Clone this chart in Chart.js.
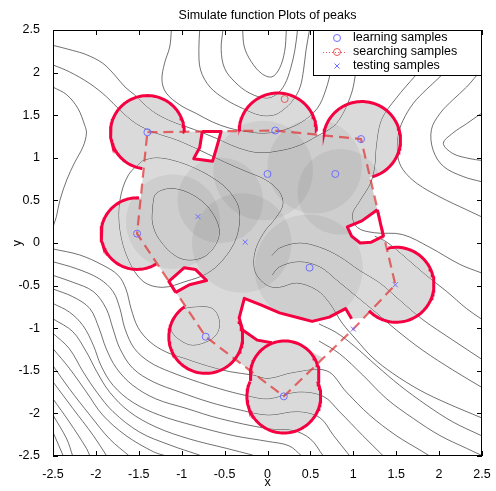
<!DOCTYPE html>
<html>
<head>
<meta charset="utf-8">
<title>Simulate function Plots of peaks</title>
<script src="https://cdn.jsdelivr.net/npm/chart.js@4.4.1/dist/chart.umd.min.js"></script>
<style>
  html, body { margin: 0; padding: 0; background: #fff; }
  canvas { display: block; }
</style>
</head>
<body>
<canvas id="peaksChart" width="496" height="491"></canvas>
<script>
// ---- samples ----
const learnX = [-1.40, 0.09, 1.09, 0.00, 0.79, -1.52, 0.49, -0.72, 0.19];
const learnY = [1.30, 1.32, 1.22, 0.81, 0.81, 0.11, -0.29, -1.10, -1.80];
const testX = [-0.81, -0.26, 1.49, 1.00];
const testY = [0.31, 0.01, -0.49, -1.01];
const searchX = [0.20];
const searchY = [1.69];

// ---- covered region: hull with notches, and the ring circles ----
const hullX = [-1.40, -0.76, -0.79, -0.86, -0.64, -0.59, -0.54, 0.09, 1.09, 1.28, 1.10, 0.93, 0.98, 1.08, 1.21, 1.35, 1.49,
  1.12, 0.98, 0.91, 0.72, 0.52, 0.37, 0.14, -0.07, -0.27, -0.33, -0.29, -0.12, 0.05, 0.20, 0.45, 0.65, 0.19, -0.72,
  -1.07, -0.91, -0.71, -0.84, -0.97, -1.15, -1.52, -1.40];
const hullY = [1.30, 1.31, 1.12, 0.99, 0.96, 1.13, 1.31, 1.32, 1.22, 0.39, 0.26, 0.19, 0.08, 0.00, 0.01, 0.08, -0.49,
  -0.88, -0.89, -0.77, -0.87, -0.92, -0.88, -0.82, -0.73, -0.65, -0.88, -1.02, -1.14, -1.17, -1.16, -1.24, -1.35, -1.80, -1.10,
  -0.58, -0.49, -0.44, -0.31, -0.29, -0.45, 0.11, 1.30];

const ringX = [-1.40, 0.12, 1.10, -1.52, -0.72, 0.19, 0.20, 1.50];
const ringY = [1.30, 1.31, 1.21, 0.11, -1.10, -1.80, -1.55, -0.49];
const ringR = [0.43, 0.45, 0.45, 0.42, 0.43, 0.43, 0.40, 0.44];
const arcFrom = [0, 0, -74, 87, 125, 156, -11, -136];
const arcTo = [262, 180, 168, 302, 385, 384, 190, 102];

const shadeX = [-1.10, -0.30, -0.05, 0.55, 0.85, 0.48, -0.55];
const shadeY = [0.25, 0.00, 0.85, 0.90, 0.60, -0.30, 0.50];
const shadeR = [0.55, 0.58, 0.58, 0.55, 0.50, 0.63, 0.50];

const notchTopX = [-0.76, -0.79, -0.86, -0.64, -0.59, -0.54, -0.76];
const notchTopY = [1.31, 1.12, 0.99, 0.96, 1.13, 1.31, 1.31];
const notchLeftX = [-1.07, -0.91, -0.71, -0.84, -0.97, -1.15, -1.07];
const notchLeftY = [-0.58, -0.49, -0.44, -0.31, -0.29, -0.45, -0.58];
const notchRightX = [1.28, 1.10, 0.93, 0.98, 1.08, 1.21, 1.35, 1.28];
const notchRightY = [0.39, 0.26, 0.19, 0.08, 0.00, 0.01, 0.08, 0.39];
const notchMidX = [0.05, -0.12, -0.29, -0.33, -0.27, -0.07, 0.14, 0.37, 0.52, 0.72, 0.91, 0.98];
const notchMidY = [-1.17, -1.14, -1.02, -0.88, -0.65, -0.73, -0.82, -0.88, -0.92, -0.87, -0.77, -0.89];

// ---- contour lines of the surface ----
const contourPaths = [
  [[-2.5,2.32],[-2.27,2.26],[-2.11,2.21],[-1.92,2.11],[-1.78,1.97],[-1.66,1.83],[-1.55,1.74],[-1.45,1.64],[-1.3,1.52],[-1.1,1.42],[-0.85,1.33],[-0.6,1.23],[-0.35,1.12],[-0.1,1.06],[0.18,1.09],[0.38,1.15],[0.57,1.25],[0.77,1.37],[0.88,1.52],[0.98,1.76],[1.02,1.95],[1.05,2.2],[1.07,2.5]],
  [[-2.5,2.09],[-2.31,2.01],[-2.07,1.87],[-1.88,1.72],[-1.72,1.56],[-1.53,1.40],[-1.30,1.29],[-1.06,1.21],[-0.79,1.09],[-0.5,0.95],[-0.25,0.84],[-0.02,0.74],[0.14,0.6],[0.18,0.45],[0.1,0.3],[-0.05,0.11],[-0.15,-0.12],[-0.14,-0.35],[0.0,-0.5],[0.14,-0.52],[0.34,-0.47],[0.57,-0.55],[0.72,-0.70],[0.87,-0.94],[1.04,-1.14],[1.22,-1.34],[1.46,-1.53],[1.78,-1.73],[2.09,-1.88],[2.49,-2.05]],
  [[-2.5,1.83],[-2.34,1.74],[-2.21,1.58],[-2.13,1.38],[-2.11,1.29],[-2.15,1.13],[-2.25,0.94],[-2.34,0.74],[-2.42,0.50],[-2.46,0.31],[-2.5,0.19]],
  [[-1.12,2.5],[-1.14,2.30],[-1.20,2.11],[-1.23,1.91],[-1.18,1.76],[-1.02,1.62],[-0.83,1.52],[-0.64,1.42],[-0.45,1.35],[-0.2,1.3],[0.0,1.29],[0.2,1.33],[0.4,1.42],[0.58,1.58],[0.68,1.8],[0.74,2.05],[0.78,2.5]],
  [[-0.79,2.5],[-0.80,2.27],[-0.78,2.03],[-0.67,1.83],[-0.48,1.68],[-0.29,1.58],[-0.09,1.50],[0.07,1.50],[0.18,1.56],[0.30,1.68],[0.38,1.83],[0.42,2.03],[0.45,2.27],[0.49,2.5]],
  [[-0.52,2.5],[-0.54,2.27],[-0.50,2.05],[-0.38,1.89],[-0.21,1.76],[-0.02,1.70],[0.1,1.74],[0.2,1.86],[0.27,2.05],[0.32,2.27],[0.35,2.5]],
  [[-0.29,2.5],[-0.27,2.30],[-0.19,2.13],[-0.07,1.99],[0.05,1.95],[0.14,2.05],[0.2,2.25],[0.22,2.5]],
  [[2.49,2.38],[2.32,2.27],[2.16,2.11],[2.01,1.95],[1.85,1.80],[1.70,1.64],[1.58,1.44],[1.52,1.25],[1.52,1.01],[1.58,0.86],[1.74,0.70],[2.01,0.54],[2.32,0.39],[2.49,0.31]],
  [[2.49,2.03],[2.32,1.83],[2.16,1.68],[2.01,1.52],[1.91,1.33],[1.93,1.09],[2.05,0.90],[2.28,0.78],[2.49,0.72]],
  [[2.49,1.52],[2.32,1.40],[2.16,1.29],[2.05,1.17],[2.16,1.05],[2.36,0.99],[2.49,0.97]],
  [[2.2,2.5],[1.95,2.22],[1.72,1.96],[1.5,1.7],[1.33,1.45],[1.27,1.15],[1.25,0.9],[1.2,0.7],[1.08,0.5],[0.99,0.33],[1.05,0.18],[1.25,0.12],[1.57,0.1],[1.89,-0.05],[2.24,-0.25],[2.49,-0.35]],
  [[-1.34,0.43],[-1.30,0.58],[-1.10,0.64],[-0.83,0.54],[-0.64,0.35],[-0.56,0.11],[-0.68,-0.12],[-0.87,-0.20],[-1.06,-0.16],[-1.26,0.04],[-1.34,0.23],[-1.34,0.43]],
  [[-1.45,0.97],[-1.3,1.0],[-1.1,0.97],[-0.85,0.88],[-0.6,0.74],[-0.44,0.6],[-0.33,0.39],[-0.36,0.07],[-0.52,-0.20],[-0.71,-0.36],[-0.95,-0.45],[-1.22,-0.52],[-1.45,-0.45],[-1.62,-0.2],[-1.72,0.15],[-1.72,0.5],[-1.62,0.8],[-1.45,0.97]],
  [[-1.12,-0.91],[-1.02,-0.79],[-0.83,-0.75],[-0.64,-0.77],[-0.56,-0.91],[-0.58,-1.05],[-0.67,-1.14],[-0.87,-1.20],[-1.02,-1.14],[-1.12,-1.03],[-1.12,-0.91]],
  [[0.05,-0.15],[0.14,-0.06],[0.37,0.0],[0.61,-0.05],[0.84,-0.16],[1.07,-0.32],[1.31,-0.47],[1.54,-0.67],[1.81,-0.90],[2.16,-1.14],[2.49,-1.36]],
  [[0.05,-0.38],[0.14,-0.28],[0.37,-0.22],[0.61,-0.28],[0.80,-0.43],[1.04,-0.63],[1.27,-0.82],[1.50,-1.02],[1.81,-1.26],[2.16,-1.49],[2.49,-1.69]],
  [[1.25,0.08],[1.39,0.01],[1.62,-0.18],[1.85,-0.38],[2.09,-0.57],[2.32,-0.77],[2.49,-0.89]],
  [[0.6,-0.95],[0.8,-1.05],[1.0,-1.2],[1.27,-1.44],[1.54,-1.67],[1.85,-1.90],[2.16,-2.10],[2.49,-2.26]],
  [[0.6,-1.15],[0.84,-1.3],[1.11,-1.55],[1.39,-1.83],[1.70,-2.06],[2.01,-2.26],[2.32,-2.41],[2.49,-2.49]],
  [[-2.5,-0.07],[-2.19,-0.14],[-1.92,-0.26],[-1.74,-0.38],[-1.65,-0.54],[-1.59,-0.77],[-1.51,-0.99],[-1.37,-1.16],[-1.18,-1.28],[-0.95,-1.36],[-0.71,-1.44],[-0.44,-1.51],[-0.17,-1.55],[0.01,-1.59],[0.3,-1.52],[0.69,-1.5],[0.92,-1.75],[1.19,-2.02],[1.50,-2.26],[1.81,-2.45],[1.89,-2.5]],
  [[-2.5,-0.22],[-2.23,-0.30],[-1.96,-0.42],[-1.80,-0.57],[-1.72,-0.77],[-1.66,-1.01],[-1.55,-1.24],[-1.37,-1.40],[-1.14,-1.51],[-0.87,-1.61],[-0.56,-1.71],[-0.25,-1.79],[0.01,-1.83],[0.35,-1.75],[0.65,-1.8],[0.84,-1.98],[1.11,-2.26],[1.35,-2.5]],
  [[-2.5,-0.38],[-2.27,-0.46],[-2.03,-0.57],[-1.88,-0.77],[-1.80,-1.01],[-1.72,-1.24],[-1.57,-1.47],[-1.33,-1.63],[-1.02,-1.75],[-0.67,-1.87],[-0.32,-1.96],[0.01,-2.02],[0.35,-1.98],[0.61,-2.05],[0.77,-2.26],[0.96,-2.5]],
  [[-2.5,-0.54],[-2.27,-0.63],[-2.07,-0.77],[-1.96,-1.01],[-1.88,-1.24],[-1.76,-1.47],[-1.57,-1.67],[-1.30,-1.83],[-0.95,-1.94],[-0.56,-2.06],[0.01,-2.18],[0.3,-2.2],[0.5,-2.3],[0.65,-2.5]],
  [[-2.5,-0.71],[-2.31,-0.81],[-2.15,-0.97],[-2.03,-1.20],[-1.94,-1.44],[-1.80,-1.67],[-1.57,-1.87],[-1.26,-2.02],[-0.87,-2.14],[-0.40,-2.26],[0.01,-2.33],[0.25,-2.38],[0.4,-2.5]],
  [[-2.5,-0.89],[-2.27,-1.04],[-2.11,-1.28],[-1.99,-1.51],[-1.84,-1.75],[-1.61,-1.98],[-1.30,-2.16],[-0.91,-2.30],[-0.48,-2.41],[-0.17,-2.49]],
  [[-2.5,-1.06],[-2.31,-1.24],[-2.15,-1.51],[-1.99,-1.75],[-1.80,-1.98],[-1.49,-2.22],[-1.14,-2.37],[-0.79,-2.49]],
  [[-2.5,-1.24],[-2.31,-1.47],[-2.11,-1.75],[-1.92,-2.02],[-1.65,-2.26],[-1.33,-2.45],[-1.18,-2.5]],
  [[-2.5,-1.44],[-2.31,-1.71],[-2.07,-2.02],[-1.84,-2.30],[-1.61,-2.5]],
  [[-2.5,-1.63],[-2.27,-1.94],[-2.03,-2.26],[-1.88,-2.49]],
  [[-2.5,-1.83],[-2.31,-2.10],[-2.11,-2.41],[-2.07,-2.5]],
  [[-2.5,-2.02],[-2.34,-2.30],[-2.27,-2.5]],
  [[-2.5,-2.22],[-2.38,-2.5]]
];

const axisTicks = [-2.5, -2, -1.5, -1, -0.5, 0, 0.5, 1, 1.5, 2, 2.5];

// ---- styles ----
const FONT = "'Liberation Sans', Arial, Helvetica, sans-serif";
const RED = "rgb(245,0,64)";
const BLUE = "rgb(110,110,255)";
const PINK = "rgb(235,90,90)";
const LINE = "#333333";

const pts = (xs, ys) => xs.map((x, i) => ({ x, y: ys[i] }));
const pxRadius = (list) => (c) => {
  const s = c.chart.scales.x;
  return Math.abs(s.getPixelForValue(list[c.dataIndex]) - s.getPixelForValue(0));
};

function arcPoints(i) {
  const out = [];
  for (let a = arcFrom[i]; a < arcTo[i]; a += 3) {
    const t = (a * Math.PI) / 180;
    out.push({ x: ringX[i] + ringR[i] * Math.cos(t), y: ringY[i] + ringR[i] * Math.sin(t) });
  }
  const t = (arcTo[i] * Math.PI) / 180;
  out.push({ x: ringX[i] + ringR[i] * Math.cos(t), y: ringY[i] + ringR[i] * Math.sin(t) });
  return out;
}

// fence through the outer samples
const fence = [
  [learnX[0], learnY[0]], [learnX[1], learnY[1]], [learnX[2], learnY[2]],
  [testX[2], testY[2]], [testX[3], testY[3]], [learnX[8], learnY[8]],
  [learnX[7], learnY[7]], [learnX[5], learnY[5]], [learnX[0], learnY[0]],
];

function unionPath(chart) {
  const { ctx, scales: { x, y } } = chart;
  ctx.beginPath();
  hullX.forEach((v, i) => {
    const px = x.getPixelForValue(v), py = y.getPixelForValue(hullY[i]);
    if (i) ctx.lineTo(px, py); else ctx.moveTo(px, py);
  });
  ctx.closePath();
  ringX.forEach((v, i) => {
    const cx = x.getPixelForValue(v), cy = y.getPixelForValue(ringY[i]);
    const r = Math.abs(x.getPixelForValue(ringR[i]) - x.getPixelForValue(0));
    ctx.moveTo(cx + r, cy);
    ctx.arc(cx, cy, r, 0, Math.PI * 2);
  });
}

function setMode(chart, meta) {
  const ds = meta ? chart.data.datasets[meta.index] : null;
  chart.ctx.globalCompositeOperation = (ds && ds.blend) || "source-over";
}

const paperPlugin = {
  id: "paper",
  beforeDraw(chart) {
    const { ctx, width, height } = chart;
    ctx.save();
    ctx.fillStyle = "#fff";
    ctx.fillRect(0, 0, width, height);
    ctx.restore();
  },
};

const blendPlugin = {
  id: "blend",
  beforeDatasetsDraw(chart) {
    const metas = chart.getSortedVisibleDatasetMetas();
    setMode(chart, metas[metas.length - 1]);
  },
  beforeDatasetDraw(chart, args) {
    if (chart.data.datasets[args.index].clipToUnion) {
      chart.ctx.save();
      unionPath(chart);
      chart.ctx.clip();
    }
  },
  afterDatasetDraw(chart, args) {
    if (chart.data.datasets[args.index].clipToUnion) chart.ctx.restore();
    const metas = chart.getSortedVisibleDatasetMetas();
    const pos = metas.findIndex((m) => m.index === args.index);
    setMode(chart, metas[pos - 1]);
  },
  afterDatasetsDraw(chart) {
    chart.ctx.globalCompositeOperation = "source-over";
  },
};

const framePlugin = {
  id: "frame",
  afterDatasetsDraw(chart) {
    const { ctx, chartArea: a, scales: { x, y } } = chart;
    ctx.save();
    ctx.strokeStyle = "#000";
    ctx.lineWidth = 1;
    ctx.strokeRect(a.left + 0.5, a.top + 0.5, a.right - a.left - 1, a.bottom - a.top - 1);
    ctx.beginPath();
    x.ticks.forEach((t) => {
      const px = Math.round(x.getPixelForValue(t.value)) + 0.5;
      ctx.moveTo(px, a.bottom); ctx.lineTo(px, a.bottom - 5);
      ctx.moveTo(px, a.top); ctx.lineTo(px, a.top + 5);
    });
    y.ticks.forEach((t) => {
      const py = Math.round(y.getPixelForValue(t.value)) + 0.5;
      ctx.moveTo(a.left, py); ctx.lineTo(a.left + 5, py);
      ctx.moveTo(a.right, py); ctx.lineTo(a.right - 5, py);
    });
    ctx.stroke();
    ctx.restore();
  },
};

const legendPlugin = {
  id: "legendBox",
  afterDraw(chart) {
    const { ctx, chartArea: a } = chart;
    const rows = chart.data.datasets.filter((d) => d.inLegend);
    ctx.save();
    ctx.font = "12.5px " + FONT;
    const textW = Math.max(...rows.map((r) => ctx.measureText(r.label).width));
    const w = Math.round(40 + textW + 25);
    const h = 45;
    const left = a.right - w;
    const top = a.top;
    ctx.fillStyle = "#fff";
    ctx.fillRect(left, top, w, h);
    ctx.strokeStyle = "#000";
    ctx.lineWidth = 1;
    ctx.strokeRect(left + 0.5, top + 0.5, w - 1, h);
    rows.forEach((r, i) => {
      const cy = top + 8 + i * 14;
      if (r.borderDash) {
        ctx.save();
        ctx.strokeStyle = r.pointBorderColor;
        ctx.setLineDash(r.borderDash);
        ctx.beginPath();
        ctx.moveTo(left + 10, cy + 0.5);
        ctx.lineTo(left + 33, cy + 0.5);
        ctx.stroke();
        ctx.restore();
      }
      ctx.strokeStyle = r.pointBorderColor;
      ctx.fillStyle = "rgba(0,0,0,0)";
      ctx.lineWidth = 1;
      Chart.helpers.drawPoint(ctx, { pointStyle: r.pointStyle, radius: 3.5, borderWidth: 1, rotation: 0 }, left + 24, cy);
      ctx.fillStyle = "#000";
      ctx.textBaseline = "middle";
      ctx.textAlign = "left";
      ctx.fillText(r.label, left + 40, cy);
    });
    ctx.restore();
  },
};

// ---- datasets ----
const datasets = [];

contourPaths.forEach((p) => {
  datasets.push({
    type: "line",
    data: p.map(([x, y]) => ({ x, y })),
    borderColor: LINE,
    borderWidth: 0.7,
    pointRadius: 0,
    tension: 0.35,
    fill: false,
    order: 100,
  });
});

// covered area: two idempotent passes so overlaps do not darken
[["lighten", "#8c8c8c", 90], ["darken", "#dadada", 80]].forEach(([mode, color, ord]) => {
  datasets.push({
    type: "line",
    data: pts(hullX, hullY),
    blend: mode,
    borderWidth: 0,
    borderColor: "rgba(0,0,0,0)",
    backgroundColor: color,
    fill: "shape",
    pointRadius: 0,
    tension: 0,
    order: ord,
  });
  datasets.push({
    type: "line",
    data: pts(ringX, ringY),
    blend: mode,
    showLine: false,
    pointStyle: "circle",
    pointRadius: pxRadius(ringR),
    pointBackgroundColor: color,
    pointBorderWidth: 0,
    order: ord - 1,
  });
});

datasets.push({
  type: "line",
  data: pts(shadeX, shadeY),
  clipToUnion: true,
  showLine: false,
  pointStyle: "circle",
  pointRadius: pxRadius(shadeR),
  pointBackgroundColor: "rgba(0,0,0,0.055)",
  pointBorderWidth: 0,
  order: 70,
});

datasets.push({
  type: "line",
  data: fence.map(([x, y]) => ({ x, y })),
  borderColor: "rgba(226,50,50,0.72)",
  borderWidth: 2.2,
  borderDash: [10, 6],
  pointRadius: 0,
  tension: 0,
  fill: false,
  order: 60,
});

ringX.forEach((_, i) => {
  datasets.push({
    type: "line",
    data: arcPoints(i),
    borderColor: RED,
    borderWidth: 3,
    pointRadius: 0,
    tension: 0,
    fill: false,
    order: 50,
  });
});

[[notchTopX, notchTopY], [notchLeftX, notchLeftY], [notchRightX, notchRightY], [notchMidX, notchMidY]].forEach(([xs, ys]) => {
  datasets.push({
    type: "line",
    data: pts(xs, ys),
    borderColor: RED,
    borderWidth: 3,
    borderJoinStyle: "round",
    pointRadius: 0,
    tension: 0,
    fill: false,
    order: 49,
  });
});

datasets.push({
  type: "line",
  label: "learning samples",
  inLegend: true,
  data: pts(learnX, learnY),
  showLine: false,
  pointStyle: "circle",
  pointRadius: 3.5,
  pointBorderWidth: 1,
  pointBorderColor: BLUE,
  pointBackgroundColor: "rgba(0,0,0,0)",
  order: 10,
});
datasets.push({
  type: "line",
  label: "searching samples",
  inLegend: true,
  data: pts(searchX, searchY),
  showLine: false,
  borderDash: [1, 2],
  pointStyle: "circle",
  pointRadius: 3.5,
  pointBorderWidth: 1,
  pointBorderColor: PINK,
  pointBackgroundColor: "rgba(0,0,0,0)",
  order: 11,
});
datasets.push({
  type: "line",
  label: "testing samples",
  inLegend: true,
  data: pts(testX, testY),
  showLine: false,
  pointStyle: "crossRot",
  pointRadius: 3.5,
  pointBorderWidth: 1,
  pointBorderColor: BLUE,
  pointBackgroundColor: "rgba(0,0,0,0)",
  order: 12,
});

const tickFont = { family: FONT, size: 12.5 };
const fmt = (v) => String(Math.round(v * 10) / 10);

new Chart(document.getElementById("peaksChart"), {
  type: "scatter",
  data: { datasets },
  options: {
    responsive: false,
    animation: false,
    devicePixelRatio: 1,
    events: [],
    layout: { padding: { left: 0, right: 14, top: 0, bottom: 0 } },
    plugins: {
      legend: { display: false },
      tooltip: { enabled: false },
      title: {
        display: true,
        text: "Simulate function Plots of peaks",
        color: "#000",
        fullSize: false,
        font: { family: FONT, size: 12.5, weight: "normal" },
        padding: { top: 8, bottom: 7 },
      },
    },
    scales: {
      x: {
        type: "linear",
        min: -2.5,
        max: 2.5,
        afterBuildTicks: (s) => { s.ticks = axisTicks.map((value) => ({ value })); },
        afterFit: (s) => { s.height = 35; },
        grid: { display: false },
        border: { display: false },
        ticks: { color: "#000", font: tickFont, padding: 3, autoSkip: false, maxRotation: 0, callback: fmt },
        title: { display: true, text: "x", color: "#000", font: tickFont, padding: { top: 0, bottom: 1 } },
      },
      y: {
        type: "linear",
        min: -2.5,
        max: 2.5,
        afterBuildTicks: (s) => { s.ticks = axisTicks.map((value) => ({ value })); },
        afterFit: (s) => { s.width = 53; },
        grid: { display: false },
        border: { display: false },
        ticks: { color: "#000", font: tickFont, padding: 5, autoSkip: false, callback: fmt },
        title: { display: true, text: "y", color: "#000", font: tickFont, padding: { top: 10.5, bottom: 0 } },
      },
    },
  },
  plugins: [paperPlugin, blendPlugin, framePlugin, legendPlugin],
});
</script>
</body>
</html>
